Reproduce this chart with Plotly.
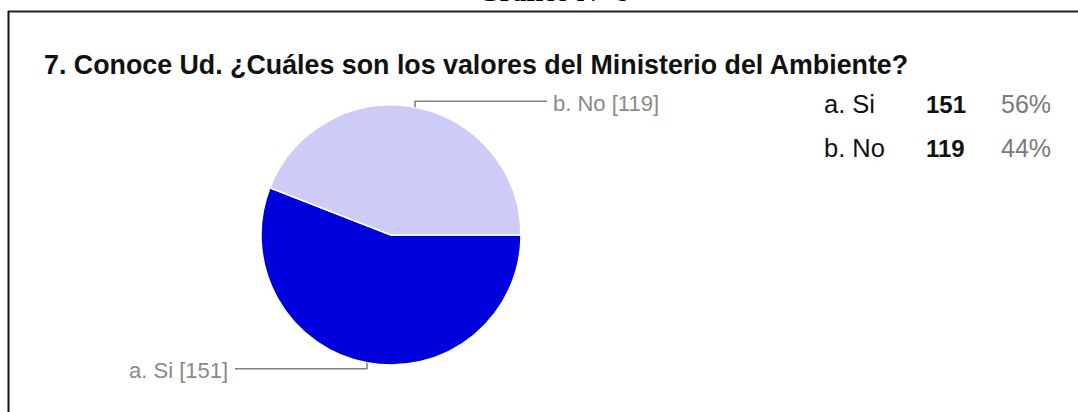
import math
import plotly.graph_objects as go

W, H = 1078, 412

# Survey answers
categories = ["a. Si", "b. No"]
counts = [151, 119]
colors = ["#0000DD", "#CCCCF6"]

title = "7. Conoce Ud. ¿Cuáles son los valores del Ministerio del Ambiente?"
header = "Gráfico N° 8"

# pie placement in pixels
cx, cy, r = 391, 235, 130

total = sum(counts)
pcts = [round(100 * c / total) for c in counts]

fig = go.Figure(
    go.Pie(
        labels=categories,
        values=counts,
        sort=False,
        direction="clockwise",
        rotation=90,
        textinfo="none",
        hoverinfo="label+value+percent",
        marker=dict(colors=colors, line=dict(color="white", width=1.5)),
        domain=dict(
            x=[(cx - r) / W, (cx + r) / W],
            y=[1 - (cy + r) / H, 1 - (cy - r) / H],
        ),
        showlegend=False,
    )
)


def px(x):
    return x / W


def py(y):
    return 1 - y / H


shapes = []
annotations = []

# leader lines from each slice midpoint to its label
start = 0.0
for cat, val in zip(categories, counts):
    span = 360 * val / total
    mid = math.radians(start + span / 2)  # clockwise from 3 o'clock
    start += span
    x0 = cx + r * math.cos(mid)
    y0 = cy + r * math.sin(mid)
    up = math.sin(mid) < 0
    yel = y0 - 6 if up else y0 + 6
    right = math.cos(mid) > 0
    x1 = x0 + 132 if right else x0 - 132
    shapes.append(dict(type="path", xref="paper", yref="paper",
                       path=f"M {px(x0)},{py(y0)} L {px(x0)},{py(yel)} L {px(x1)},{py(yel)}",
                       line=dict(color="#808080", width=1.6)))
    annotations.append(dict(
        x=px(x1 + (4 if right else -5)), y=py(yel + 2), xref="paper", yref="paper",
        text=f"{cat} [{val}]", showarrow=False,
        xanchor="left" if right else "right", yanchor="middle",
        font=dict(family="Liberation Sans, Arial", size=22, color="#8a8a8a"),
    ))

# summary table on the right
row_y = [104, 148]
for cat, val, pct, yy in zip(categories, counts, pcts, row_y):
    annotations.append(dict(x=px(822), y=py(yy), xref="paper", yref="paper", text=cat,
                            showarrow=False, xanchor="left", yanchor="middle",
                            font=dict(family="Liberation Sans, Arial", size=25.5, color="#111")))
    annotations.append(dict(x=px(924), y=py(yy), xref="paper", yref="paper", text=f"<b>{val}</b>",
                            showarrow=False, xanchor="left", yanchor="middle",
                            font=dict(family="Liberation Sans, Arial", size=24, color="#111")))
    annotations.append(dict(x=px(1053), y=py(yy), xref="paper", yref="paper", text=f"{pct}%",
                            showarrow=False, xanchor="right", yanchor="middle",
                            font=dict(family="Liberation Sans, Arial", size=25, color="#7a7a7a")))

# chart title
annotations.append(dict(x=px(42), y=py(65), xref="paper", yref="paper", text=f"<b>{title}</b>",
                        showarrow=False, xanchor="left", yanchor="middle",
                        font=dict(family="Liberation Sans, Arial", size=26.8, color="#111")))

# document heading (cut off at the top)
annotations.append(dict(x=px(553), y=py(8.5), xref="paper", yref="paper", text=f"<b>{header}</b>",
                        showarrow=False, xanchor="center", yanchor="bottom",
                        font=dict(family="Liberation Serif, Times New Roman", size=28, color="#000")))

# frame: top and left rules
shapes.append(dict(type="line", xref="paper", yref="paper", x0=px(8), x1=1, y0=py(11.5), y1=py(11.5),
                   line=dict(color="#222", width=2)))
shapes.append(dict(type="line", xref="paper", yref="paper", x0=px(8.5), x1=px(8.5), y0=py(11), y1=0,
                   line=dict(color="#111", width=2)))

fig.update_layout(
    width=W, height=H,
    margin=dict(l=0, r=0, t=0, b=0),
    paper_bgcolor="white", plot_bgcolor="white",
    shapes=shapes, annotations=annotations,
)

fig.write_html("out.html")
